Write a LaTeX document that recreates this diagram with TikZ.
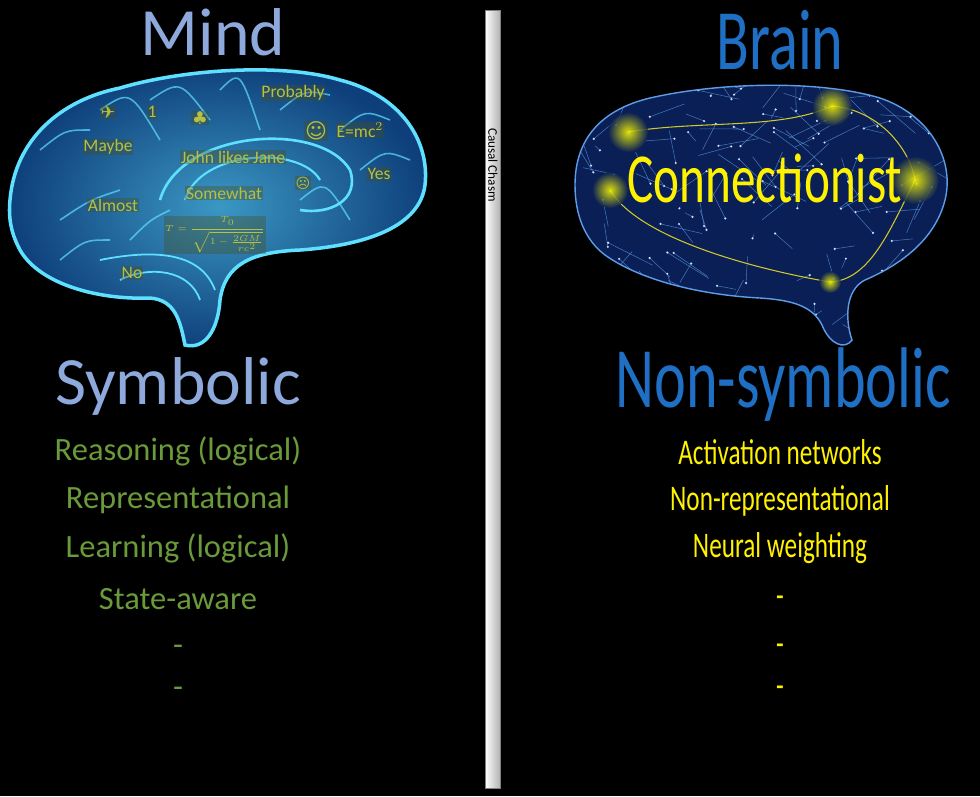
\documentclass[tikz,border=0pt]{standalone}
\usepackage{fontspec}
\setmainfont{Carlito}
\newfontfamily\agency[FakeStretch=0.7]{Carlito}
\newfontfamily\symfont{DejaVu Sans}
\usetikzlibrary{positioning,shadings}
\definecolor{mindblue}{HTML}{8EA9DB}
\definecolor{brainblue}{HTML}{1F6FC4}
\definecolor{symgreen}{HTML}{6A9A3A}
\definecolor{labelgreen}{HTML}{B8C040}
\definecolor{cyanline}{HTML}{5FE0FF}
\definecolor{netblue}{HTML}{5C9CE8}
\definecolor{braindeep}{HTML}{0E3F7A}
\definecolor{netdeep}{HTML}{0A1F55}

\tikzset{
  mindtitle/.style={font=\fontsize{38.5}{39}\selectfont, text=mindblue},
  braintitle/.style={font=\agency\fontsize{49}{49}\selectfont, text=brainblue},
  symitem/.style={font=\fontsize{18.5}{19}\selectfont, text=symgreen},
  nonitem/.style={font=\agency\fontsize{20.5}{21}\selectfont, text=yellow},
  brainlabel/.style={font=\fontsize{10}{10}\selectfont, text=labelgreen, fill=labelgreen!40!black, fill opacity=0.35, text opacity=1, inner sep=0.5pt},
  fold/.style={cyanline, line width=0.9pt, opacity=0.7},
  glow/.style={inner color=yellow, outer color=netdeep, opacity=0.85}
}

\begin{document}
\begin{tikzpicture}[x=0.02cm,y=-0.02cm]
  \fill[black] (0,0) rectangle (980,796);
  \useasboundingbox (0,0) rectangle (980,796);

  % left brain
  \def\leftbrain{(10,200) .. controls (15,140) and (60,100) .. (120,88)
    .. controls (180,70) and (280,62) .. (340,80)
    .. controls (400,95) and (430,140) .. (425,185)
    .. controls (420,225) and (370,245) .. (300,250)
    .. controls (250,252) and (225,265) .. (220,300)
    .. controls (218,330) and (205,350) .. (185,345)
    .. controls (180,320) and (175,300) .. (150,298)
    .. controls (100,300) and (40,285) .. (20,250)
    .. controls (12,235) and (8,220) .. (10,200) -- cycle}
  \shade[inner color=cyanline!55!braindeep, outer color=braindeep] \leftbrain;
  \draw[cyanline, line width=2pt] \leftbrain;
  \foreach \a/\b/\c/\d in {40/150/90/130, 60/220/120/190, 100/110/160/140, 150/100/210/120,
      220/90/260/130, 280/110/330/95, 340/130/390/120, 360/170/410/160, 60/260/110/240,
      130/240/170/210, 300/200/350/220}
    \draw[fold] (\a,\b) .. controls ({(\a+\c)/2},{\b-20}) .. (\c,\d);
  \draw[cyanline, line width=1.5pt] (160,200) .. controls (180,130) and (320,120) .. (350,170)
    .. controls (360,200) and (330,215) .. (300,210);
  \draw[cyanline, line width=1.2pt] (185,200) .. controls (200,150) and (300,145) .. (320,180);
  \draw[cyanline, line width=1pt] (100,260) .. controls (150,250) and (200,250) .. (215,290);
  \draw[cyanline, line width=1pt] (120,280) .. controls (150,265) and (190,270) .. (200,300);

  \node[brainlabel] (probably) at (293,93) {Probably};
  \node[brainlabel, font=\symfont\fontsize{10}{10}\selectfont] (plane) at (108,112) {✈};
  \node[brainlabel] (one) at (152,112) {1};
  \node[brainlabel, font=\symfont\fontsize{10}{10}\selectfont] (clover) at (200,118) {♣};
  \node[brainlabel, font=\symfont\fontsize{12}{12}\selectfont] (smile) at (316,131) {☺};
  \node[brainlabel] (emc) at (360,130) {E=mc$^2$};
  \node[brainlabel] (maybe) at (108,147) {Maybe};
  \node[brainlabel] (john) at (233,157) {John likes Jane};
  \node[brainlabel] (yes) at (379,174) {Yes};
  \node[brainlabel, font=\symfont\fontsize{8}{8}\selectfont] (frown) at (303,183) {☹};
  \node[brainlabel] (somewhat) at (224,193) {Somewhat};
  \node[brainlabel] (almost) at (113,205) {Almost};
  \node[brainlabel, font=\fontsize{5.5}{6}\selectfont] (formula) at (215,235) {$\displaystyle T=\frac{T_0}{\sqrt{1-\frac{2GM}{rc^2}}}$};
  \node[brainlabel] (no) at (132,273) {No};

  % right brain
  \def\rightbrain{(575,185) .. controls (575,140) and (600,110) .. (650,98)
    .. controls (720,82) and (820,80) .. (880,98)
    .. controls (930,115) and (955,160) .. (945,200)
    .. controls (935,240) and (900,265) .. (865,280)
    .. controls (845,290) and (845,320) .. (852,340)
    .. controls (845,350) and (830,345) .. (822,325)
    .. controls (812,305) and (790,300) .. (760,298)
    .. controls (700,295) and (640,280) .. (605,255)
    .. controls (585,240) and (575,215) .. (575,185) -- cycle}
  \fill[netdeep] \rightbrain;
  \begin{scope}
    \clip \rightbrain;
    \pgfmathsetseed{7}
    \foreach \i in {1,...,170} {
      \pgfmathsetmacro\px{570+rnd*390}
      \pgfmathsetmacro\py{80+rnd*270}
      \pgfmathsetmacro\qx{\px+(rnd-0.5)*90}
      \pgfmathsetmacro\qy{\py+(rnd-0.5)*70}
      \draw[netblue, line width=0.3pt, opacity=0.7] (\px,\py) -- (\qx,\qy);
      \fill[white!70!netblue] (\px,\py) circle (1.2);
    }
    \coordinate (g1) at (628,132);
    \coordinate (g2) at (832,106);
    \coordinate (g3) at (915,180);
    \coordinate (g4) at (610,190);
    \coordinate (g5) at (830,282);
    \draw[yellow!80!black, line width=0.6pt] (g1) .. controls (700,120) and (780,130) .. (g2)
      .. controls (880,110) and (910,150) .. (g3)
      .. controls (890,230) and (870,280) .. (g5)
      .. controls (760,270) and (640,240) .. (g4);
    \foreach \g/\r in {g1/20, g2/20, g3/24, g4/18, g5/11}
      \shade[glow] (\g) circle (\r);
  \end{scope}
  \draw[netblue, line width=0.8pt] \rightbrain;
  \node[font=\agency\fontsize{40}{40}\selectfont, text=yellow, inner sep=0pt] (connectionist) at (765,178) {Connectionist};

  % chasm
  \shade[left color=white, right color=gray!60, draw=gray] (485,10) rectangle (500,788);
  \node[rotate=-90, font=\fontsize{7.5}{8}\selectfont, anchor=west] (chasm) at (493,122) {Causal Chasm};

  % titles
  \node[mindtitle] (mind) at (213,32) {Mind};
  \node[braintitle] (brain) at (780,40) {Brain};
  \node[mindtitle] (symbolic) at (178,386) {Symbolic};
  \node[braintitle] (nonsymbolic) at (783,385) {Non-symbolic};

  % lists
  \node[symitem] (s1) at (178,451) {Reasoning (logical)};
  \node[symitem] (s2) at (178,500) {Representational};
  \node[symitem] (s3) at (178,548) {Learning (logical)};
  \node[symitem] (s4) at (178,599) {State-aware};
  \node[symitem] (s5) at (178,650) {-};
  \node[symitem] (s6) at (178,692) {-};
  \node[nonitem] (n1) at (780,452) {Activation networks};
  \node[nonitem] (n2) at (780,501) {Non-representational};
  \node[nonitem] (n3) at (780,548) {Neural weighting};
  \node[nonitem] (n4) at (780,602) {-};
  \node[nonitem] (n5) at (780,650) {-};
  \node[nonitem] (n6) at (780,692) {-};
\end{tikzpicture}
\end{document}
